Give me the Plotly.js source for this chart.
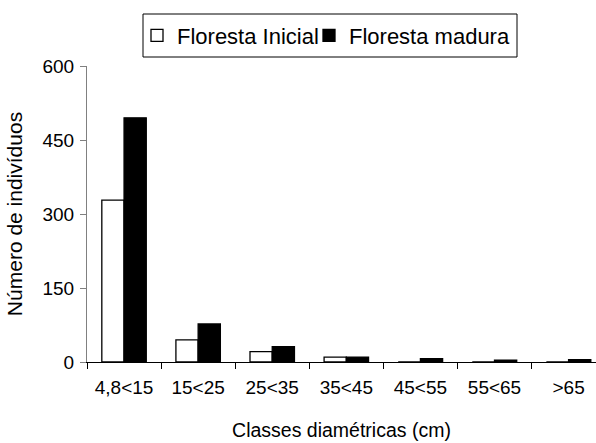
<!DOCTYPE html>
<html>
<head>
<meta charset="utf-8">
<script src="https://cdn.plot.ly/plotly-3.0.1.min.js"></script>
<style>html,body{margin:0;padding:0;background:#fff;}#chart{width:596px;height:443px;}</style>
</head>
<body>
<div id="chart"></div>
<script>
const categories = ["4,8<15", "15<25", "25<35", "35<45", "45<55", "55<65", ">65"];
const florestaInicial = [328, 45, 21, 10, 0, 0, 0];
const florestaMadura = [495, 77, 31, 10, 7, 4, 5];
const seriesNames = ["Floresta Inicial", "Floresta madura"];
const yTicks = [0, 150, 300, 450, 600];

const FONT = "Liberation Sans, Arial, sans-serif";

const traces = [
  {
    type: "bar", name: seriesNames[0], x: categories, y: florestaInicial, legend: "legend",
    marker: {color: "#ffffff", line: {color: "#000000", width: 1.3}}
  },
  {
    type: "bar", name: seriesNames[1], x: categories, y: florestaMadura, legend: "legend2",
    marker: {color: "#000000", line: {color: "#000000", width: 1.3}}
  }
];

const legendCommon = {
  orientation: "h", xanchor: "left", y: 1.103, yanchor: "middle",
  borderwidth: 0, bgcolor: "rgba(0,0,0,0)", font: {size: 22, family: FONT}, itemwidth: 30
};

const layout = {
  width: 596, height: 443,
  margin: {l: 87, r: 0, t: 66, b: 81, pad: 0},
  paper_bgcolor: "#ffffff", plot_bgcolor: "#ffffff",
  font: {family: FONT, color: "#000000"},
  barmode: "group", bargap: 0.4, bargroupgap: 0,
  showlegend: true,
  legend: Object.assign({}, legendCommon, {x: (137 - 87) / 509}),
  legend2: Object.assign({}, legendCommon, {x: (309 - 87) / 509}),
  shapes: [{
    type: "rect", xref: "paper", yref: "paper",
    x0: (143 - 87) / 509, x1: (517 - 87) / 509,
    y0: (362 - 57) / 296, y1: (362 - 14) / 296,
    line: {color: "#000000", width: 1}, fillcolor: "rgba(0,0,0,0)", layer: "below"
  }],
  xaxis: {
    type: "category", range: [-0.5, 6.37],
    showline: true, linecolor: "#000000", linewidth: 1,
    ticks: "outside", tickson: "boundaries", ticklen: 6, tickcolor: "#000000",
    tickfont: {size: 19}, ticklabelstandoff: 8, showgrid: false, zeroline: false,
    title: {text: "Classes diamétricas (cm)", font: {size: 19.5}, standoff: 26}
  },
  yaxis: {
    range: [0, 600], tickvals: yTicks,
    showline: true, linecolor: "#808080", linewidth: 1,
    ticks: "outside", ticklen: 6, tickcolor: "#808080",
    tickfont: {size: 19}, ticklabelstandoff: 2, showgrid: false, zeroline: false,
    title: {text: "Número de indivíduos", font: {size: 21}, standoff: 14}
  }
};

Plotly.newPlot("chart", traces, layout, {displayModeBar: false, staticPlot: true});
</script>
</body>
</html>
